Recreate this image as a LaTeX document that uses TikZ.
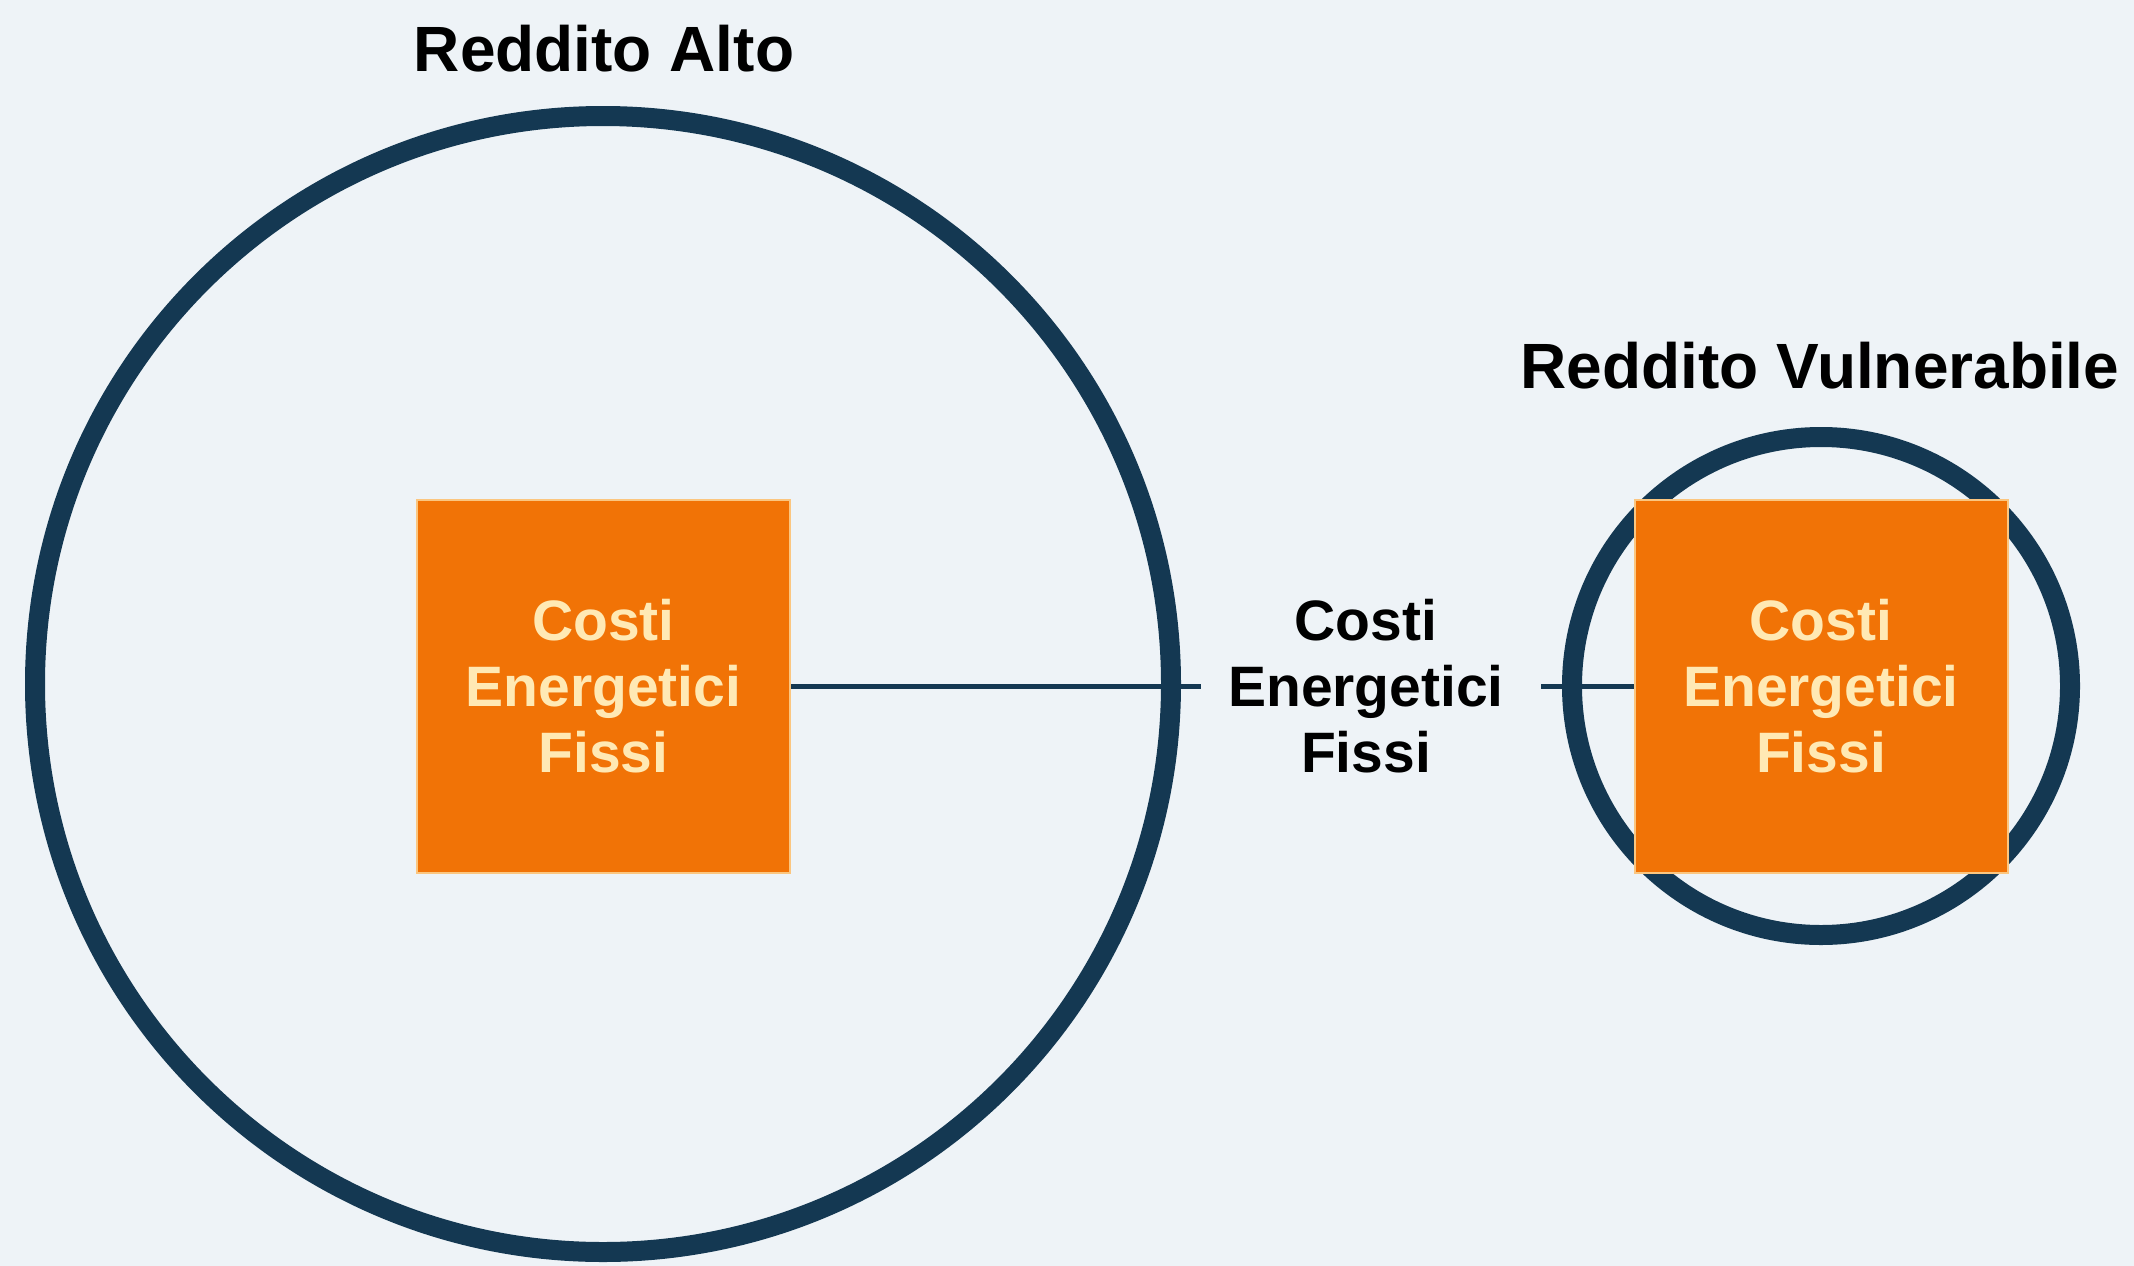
\documentclass[tikz,border=0pt]{standalone}
\usepackage{fontspec}
\setmainfont{Liberation Sans}
\definecolor{bgc}{RGB}{238,243,247}
\definecolor{navy}{RGB}{20,56,82}
\definecolor{orng}{RGB}{241,115,6}
\definecolor{cream}{RGB}{255,233,180}
\begin{document}
\begin{tikzpicture}[x=1pt,y=-1pt,
  ring/.style={draw=navy,line width=20pt},
  costbox/.style={rectangle,fill=orng,draw=cream!70!orng,line width=2pt,minimum width=373pt,minimum height=373pt,inner sep=0pt,text=cream,font=\fontsize{57}{66}\selectfont\bfseries,align=center},
  title/.style={font=\fontsize{64}{70}\selectfont\bfseries,text=black,inner sep=0pt,anchor=base},
  midtext/.style={font=\fontsize{57}{66}\selectfont\bfseries,text=black,align=center,inner sep=0pt},
  link/.style={draw=navy,line width=5pt}]
\fill[bgc] (0,0) rectangle (2134,1266);
\useasboundingbox (0,0) rectangle (2134,1266);
\draw[ring] (603,684) circle (568);
\draw[ring] (1821,686) circle (249);
\node[costbox] (b1) at (603.5,686) {Costi\\Energetici\\Fissi};
\node[costbox] (b2) at (1821,686) {Costi\\Energetici\\Fissi};
\node[title] (t1) at (604,71) {Reddito Alto};
\node[title] (t2) at (1820,388) {Reddito Vulnerabile};
\node[midtext] (mid) at (1366,686) {Costi\\Energetici\\Fissi};
\draw[link,shorten >=27pt] (b1.east) -- (b1.east -| mid.west);
\draw[link,shorten <=37pt] (b2.west -| mid.east) -- (b2.west);
\end{tikzpicture}
\end{document}
